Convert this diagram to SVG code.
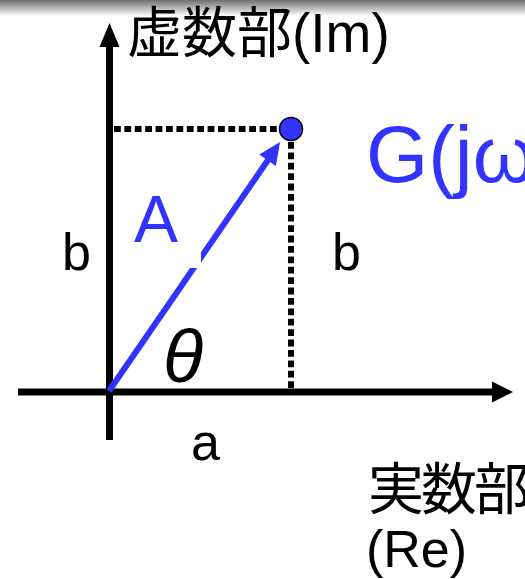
<svg xmlns="http://www.w3.org/2000/svg" width="525" height="579" viewBox="0 0 525 579">
<style>
.lbl{font-family:"Liberation Sans","Noto Sans CJK JP",sans-serif;fill:#000}
.blue{fill:#3333ff}
.axis{stroke:#000;stroke-width:7;fill:none}
.dash{stroke:#000;stroke-width:6;stroke-dasharray:6.8 3.6;fill:none}
</style>
<defs>
<linearGradient id="shadow" x1="0" y1="0" x2="0" y2="1">
<stop offset="0" stop-color="#6e6e6e"/>
<stop offset="1" stop-color="#ffffff"/>
</linearGradient>
</defs>
<rect width="525" height="579" fill="#fff"/>
<rect width="525" height="16" fill="url(#shadow)"/>
<g id="connectors">
<line class="axis" x1="109.5" y1="440" x2="109.5" y2="44"/>
<polygon points="109.5,23 99.5,47 119.5,47" fill="#000"/>
<line class="axis" x1="18" y1="392" x2="495" y2="392"/>
<polygon points="513,392 492,381.5 492,402.5" fill="#000"/>
<line class="dash" x1="114" y1="129" x2="282" y2="129"/>
<line class="dash" x1="291" y1="142" x2="291" y2="388"/>
<line x1="109" y1="391" x2="268" y2="160" stroke="#3333ff" stroke-width="6"/>
<polygon points="280,142 259.3,154.6 275.9,165.9" fill="#3333ff"/>
<rect x="113" y="180" width="88" height="88" fill="#fff"/>
</g>
<g id="point">
<circle cx="291" cy="129" r="11.5" fill="#3333ff" stroke="#000" stroke-width="1.5"/>
</g>
<g id="labels">
<text class="lbl" x="127" y="52" font-size="55">虚数部(Im)</text>
<text class="lbl blue" x="366" y="182" font-size="80">G(jω)</text>
<text class="lbl blue" x="134" y="242" font-size="66">A</text>
<text class="lbl" x="62" y="270" font-size="52">b</text>
<text class="lbl" x="332" y="270" font-size="52">b</text>
<text class="lbl" x="163" y="382" font-size="74" font-style="italic">θ</text>
<text class="lbl" x="191" y="460" font-size="52">a</text>
<text class="lbl" x="368" y="509" font-size="56" letter-spacing="-3">実数部</text>
<text class="lbl" x="366" y="567" font-size="52">(Re)</text>
</g>
</svg>
